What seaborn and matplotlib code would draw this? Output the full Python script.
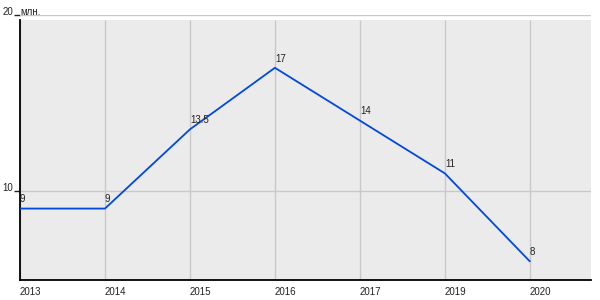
import matplotlib
matplotlib.use("Agg")
import matplotlib.pyplot as plt
import seaborn as sns
import pandas as pd

# --- data ---
years = ["2013", "2014", "2015", "2016", "2017", "2019", "2020"]
values = [9, 9, 13.5, 17, 14, 11, 6]
point_labels = ["9", "9", "13.5", "17", "14", "11", "8"]
y_ticks = [10, 20]
unit_label = "млн."

sns.set_style("white")
plt.rcParams["font.family"] = ["Liberation Sans", "DejaVu Sans"]

df = pd.DataFrame({"year": years, "value": values})

fig = plt.figure(figsize=(6, 3), dpi=100)
ax = fig.add_axes([20 / 600, 20 / 300, 571 / 600, 265 / 300])

ylo, yhi = 4.94, 20.0
gray_top = 19.72
ax.set_facecolor("white")

# grey plotting area (stops a little below the 20 line)
ax.axhspan(ylo, gray_top, color="#EBEBEB", zorder=0, lw=0)
# grid
ax.vlines(range(len(years)), ylo, gray_top, color="#C8C8C8", lw=1, zorder=1)
for t in y_ticks:
    ax.axhline(t, color="#C8C8C8", lw=1, zorder=1)

sns.lineplot(data=df, x="year", y="value", sort=False, color="#0048E0",
             lw=1.3, ax=ax, zorder=3)
ax.set_xlim(0, 6.72)
ax.set_ylim(ylo, yhi)

for i, (v, lab) in enumerate(zip(values, point_labels)):
    ax.annotate(lab, (i, v), xytext=(0, 3), textcoords="offset points",
                ha="left", va="bottom", fontsize=7, color="#222222", zorder=4)

ax.set_xlabel("")
ax.set_ylabel("")
ax.set_yticks(y_ticks)
ax.set_yticklabels([str(t) for t in y_ticks])
ax.set_xticks(range(len(years)))
ax.set_xticklabels(years)
for lbl in ax.get_xticklabels():
    lbl.set_ha("left")
for lbl in ax.get_yticklabels():
    lbl.set_va("baseline")
ax.tick_params(axis="x", length=0, pad=5, labelsize=7, labelcolor="#222222")
ax.tick_params(axis="y", length=4, width=1, pad=1, labelsize=7,
               labelcolor="#222222", color="#222222", left=True)

ax.text(0.01, yhi, unit_label, ha="left", va="baseline", fontsize=7,
        color="#222222", zorder=5)

for s in ["top", "right"]:
    ax.spines[s].set_visible(False)
for s in ["left", "bottom"]:
    ax.spines[s].set_color("black")
    ax.spines[s].set_linewidth(1.3)
ax.spines["left"].set_bounds(ylo, gray_top)

fig.savefig("out.png", dpi=100)
